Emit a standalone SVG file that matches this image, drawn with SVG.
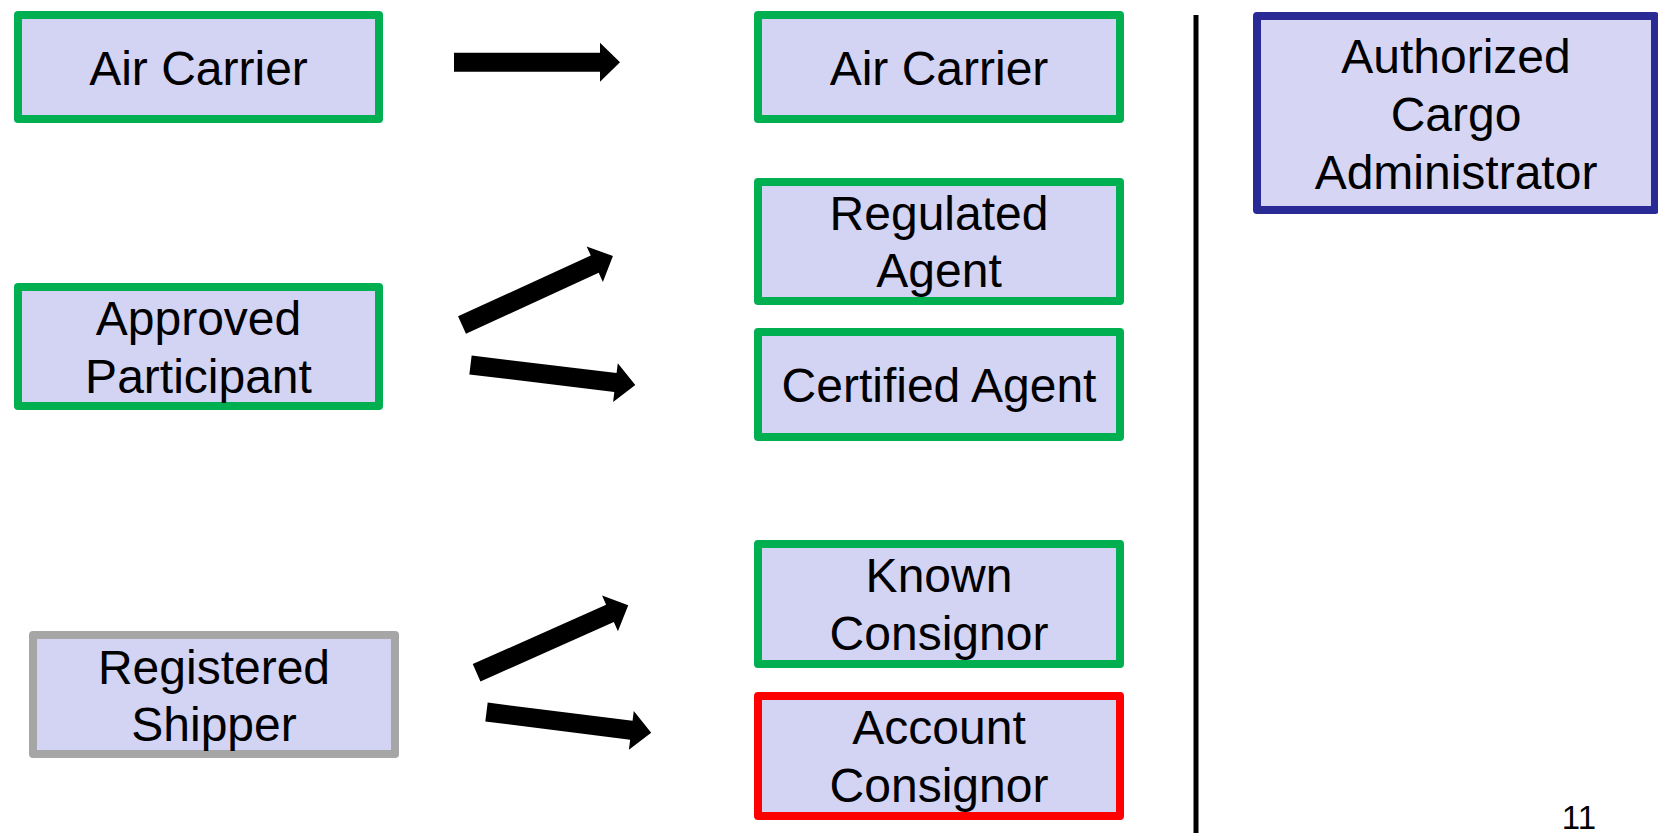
<svg xmlns="http://www.w3.org/2000/svg" xmlns:xlink="http://www.w3.org/1999/xlink" width="1658" height="833" viewBox="0 0 1658 833">
<style>
  .box { fill: #D3D3F3; stroke-width: 8; stroke-linejoin: round; }
  .green { stroke: #00B050; }
  .gray { stroke: #A6A6A6; }
  .red { stroke: #FF0000; }
  .blue { stroke: #2A2A96; fill: #D6D6F4; }
  .lbl { font-family: "Liberation Sans", Arial, sans-serif; font-size: 48px; fill: #000; text-anchor: middle; }
  .num { font-family: "Liberation Sans", Arial, sans-serif; font-size: 33px; fill: #000; text-anchor: middle; }
</style>
<defs>
  <path id="arr" d="M0,-9.5 L146,-9.5 L146,-19.5 L166,0 L146,19.5 L146,9.5 L0,9.5 Z" fill="#000"/>
</defs>
<rect width="1658" height="833" fill="#fff"/>

<g id="air-carrier-left">
  <rect class="box green" x="18" y="15" width="361" height="104"/>
  <text class="lbl" x="198.5" y="85">Air Carrier</text>
</g>
<g id="approved-participant">
  <rect class="box green" x="18" y="287" width="361" height="119"/>
  <text class="lbl" x="198.5" y="335">Approved</text>
  <text class="lbl" x="198.5" y="393">Participant</text>
</g>
<g id="registered-shipper">
  <rect class="box gray" x="33" y="635" width="362" height="119"/>
  <text class="lbl" x="214" y="684">Registered</text>
  <text class="lbl" x="214" y="741">Shipper</text>
</g>
<g id="air-carrier-right">
  <rect class="box green" x="758" y="15" width="362" height="104"/>
  <text class="lbl" x="939" y="85">Air Carrier</text>
</g>
<g id="regulated-agent">
  <rect class="box green" x="758" y="182" width="362" height="119"/>
  <text class="lbl" x="939" y="230">Regulated</text>
  <text class="lbl" x="939" y="287">Agent</text>
</g>
<g id="certified-agent">
  <rect class="box green" x="758" y="332" width="362" height="105"/>
  <text class="lbl" x="939" y="402">Certified Agent</text>
</g>
<g id="known-consignor">
  <rect class="box green" x="758" y="544" width="362" height="120"/>
  <text class="lbl" x="939" y="592">Known</text>
  <text class="lbl" x="939" y="650">Consignor</text>
</g>
<g id="account-consignor">
  <rect class="box red" x="758" y="696" width="362" height="120"/>
  <text class="lbl" x="939" y="744">Account</text>
  <text class="lbl" x="939" y="802">Consignor</text>
</g>
<g id="authorized-cargo-administrator">
  <rect class="box blue" x="1257" y="16" width="398" height="194"/>
  <text class="lbl" x="1456" y="73">Authorized</text>
  <text class="lbl" x="1456" y="131">Cargo</text>
  <text class="lbl" x="1456" y="188.5">Administrator</text>
</g>

<g id="divider">
  <rect x="1193.5" y="15" width="5" height="818" fill="#000"/>
</g>

<g id="connectors">
  <use xlink:href="#arr" href="#arr" transform="translate(454,62.2)"/>
  <use xlink:href="#arr" href="#arr" transform="translate(462,325) rotate(-24.6)"/>
  <use xlink:href="#arr" href="#arr" transform="translate(470.5,365) rotate(6.9)"/>
  <use xlink:href="#arr" href="#arr" transform="translate(476.6,672.8) rotate(-24)"/>
  <use xlink:href="#arr" href="#arr" transform="translate(486.5,712) rotate(7.2)"/>
</g>

<g id="page-number">
  <text class="num" x="1579" y="829">11</text>
</g>
</svg>
